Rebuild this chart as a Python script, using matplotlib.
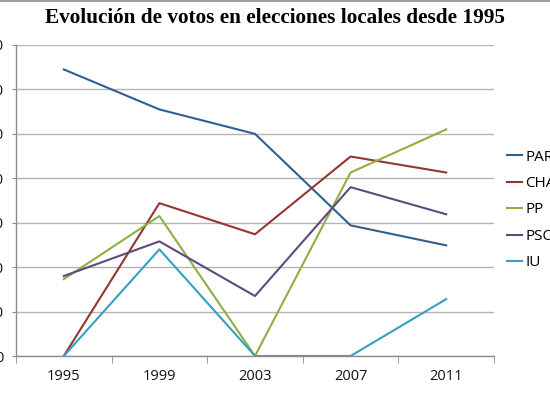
import matplotlib.pyplot as plt
from matplotlib.ticker import MultipleLocator, FixedLocator

# Datos
anios = ["1995", "1999", "2003", "2007", "2011"]
par = [645, 555, 500, 294, 249]
cha = [0, 344, 274, 449, 413]
pp = [173, 315, 0, 413, 510]
psoe = [180, 258, 135, 380, 319]
iu = [0, 240, 0, 0, 128]

series = [
    ("PAR", par, "#31608f"),
    ("CHA", cha, "#943634"),
    ("PP", pp, "#8fb040"),
    ("PSOE", psoe, "#5f4a7b"),
    ("IU", iu, "#35a0c0"),
]

W, H = 550, 393
fig = plt.figure(figsize=(W / 100, H / 100), dpi=100)
ax = fig.add_axes([16 / W, 1 - 356 / H, 478 / W, 311 / H])

for nombre, valores, color in series:
    ax.plot(anios, valores, color=color, lw=1.5, label=nombre)

ax.set_xlim(-0.5, 4.5)
ax.set_ylim(0, 700)
ax.yaxis.set_major_locator(MultipleLocator(100))
ax.grid(axis="y", color="#b4b4b4", lw=1.0)
ax.set_axisbelow(True)

for lado in ("top", "right"):
    ax.spines[lado].set_visible(False)
for lado in ("left", "bottom"):
    ax.spines[lado].set_color("#8c8c8c")
    ax.spines[lado].set_linewidth(1.0)

ax.xaxis.set_minor_locator(FixedLocator([i - 0.5 for i in range(6)]))
ax.tick_params(axis="x", which="major", length=0, pad=9,
               labelsize=10.5, labelcolor="#111")
ax.tick_params(axis="x", which="minor", length=5, color="#8c8c8c", direction="out")
ax.tick_params(axis="y", length=3, color="#8c8c8c", pad=6,
               labelsize=10.5, labelcolor="#111")
for t in ax.get_xticklabels() + ax.get_yticklabels():
    t.set_fontfamily("Open Sans")

fig.text(0.5, 1 - 18 / H, "Evolución de votos en elecciones locales desde 1995",
         ha="center", va="center", fontsize=15.3, fontweight="bold",
         family="Liberation Serif")

# borde superior del gráfico
fig.add_artist(plt.Line2D([0, 1], [1 - 0.5 / H, 1 - 0.5 / H], color="#a0a0a0", lw=1.5))

fig.legend(loc="center left", bbox_to_anchor=(507 / W, 1 - 210 / H),
           frameon=False, borderpad=0, borderaxespad=0,
           handlelength=1.0, handletextpad=0.2, labelspacing=0.75,
           prop={"family": "Open Sans", "size": 11})

fig.savefig("out.png", dpi=100, facecolor="white")
